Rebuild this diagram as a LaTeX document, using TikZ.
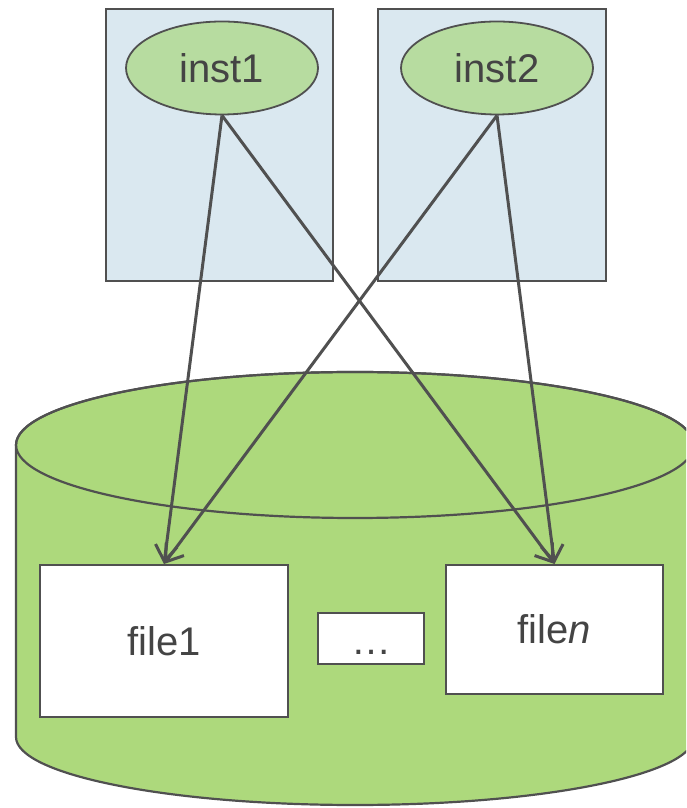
\documentclass[tikz,border=0pt]{standalone}
\usepackage{fontspec}
\setmainfont{Liberation Sans}
\usetikzlibrary{arrows.meta,shapes.geometric}

\definecolor{edgegray}{RGB}{80,80,80}
\definecolor{textgray}{RGB}{68,68,68}
\definecolor{hostblue}{RGB}{218,232,240}
\definecolor{instgreen}{RGB}{183,220,160}
\definecolor{diskgreen}{RGB}{173,217,124}

\tikzset{
  hostbox/.style={draw=edgegray, line width=2.2pt, fill=hostblue},
  instnode/.style={ellipse, draw=edgegray, line width=1.8pt, fill=instgreen,
    minimum width=192pt, minimum height=93pt, inner sep=0pt,
    text=textgray, font=\fontsize{40}{44}\selectfont},
  filebox/.style={rectangle, draw=edgegray, line width=2pt, fill=white,
    inner sep=0pt, text=textgray, font=\fontsize{40}{44}\selectfont},
  link/.style={draw=edgegray, line width=3pt,
    -{Straight Barb[length=16pt, width=22pt]}},
}

\begin{document}
\begin{tikzpicture}[x=1pt, y=1pt]
  \useasboundingbox (0,0) rectangle (686,808);

  % host boxes holding the two instances
  \draw[hostbox] (106,799) rectangle (333,527);
  \draw[hostbox] (378,799) rectangle (606,527);

  \node[instnode] (inst1) at (222,740) {inst1};
  \node[instnode] (inst2) at (497,740) {inst2};

  % shared storage drawn as a cylinder
  \begin{scope}
    \clip (0,0) rectangle (686,808);
    \filldraw[fill=diskgreen, draw=edgegray, line width=2.2pt]
      (16,363) -- (16,71)
      arc[start angle=180, end angle=360, x radius=339pt, y radius=68pt]
      -- (694,363)
      arc[start angle=0, end angle=180, x radius=339pt, y radius=73pt]
      -- cycle;
    \draw[edgegray, line width=2.2pt] (355,363) ellipse[x radius=339pt, y radius=73pt];
  \end{scope}

  % files on the shared storage
  \node[filebox, minimum width=248pt, minimum height=152pt] (file1) at (164,167) {file1};
  \node[filebox, minimum width=106pt, minimum height=51pt] (dots) at (371,169.5)
    {\smash{\raisebox{-16pt}{…}}};
  \node[filebox, minimum width=217pt, minimum height=129pt] (filen) at (554.5,178.5) {file\textit{n}};

  % every instance reaches every file
  \draw[link] (inst1.south) -- (file1.north);
  \draw[link] (inst1.south) -- (filen.north);
  \draw[link] (inst2.south) -- (file1.north);
  \draw[link] (inst2.south) -- (filen.north);
\end{tikzpicture}
\end{document}
